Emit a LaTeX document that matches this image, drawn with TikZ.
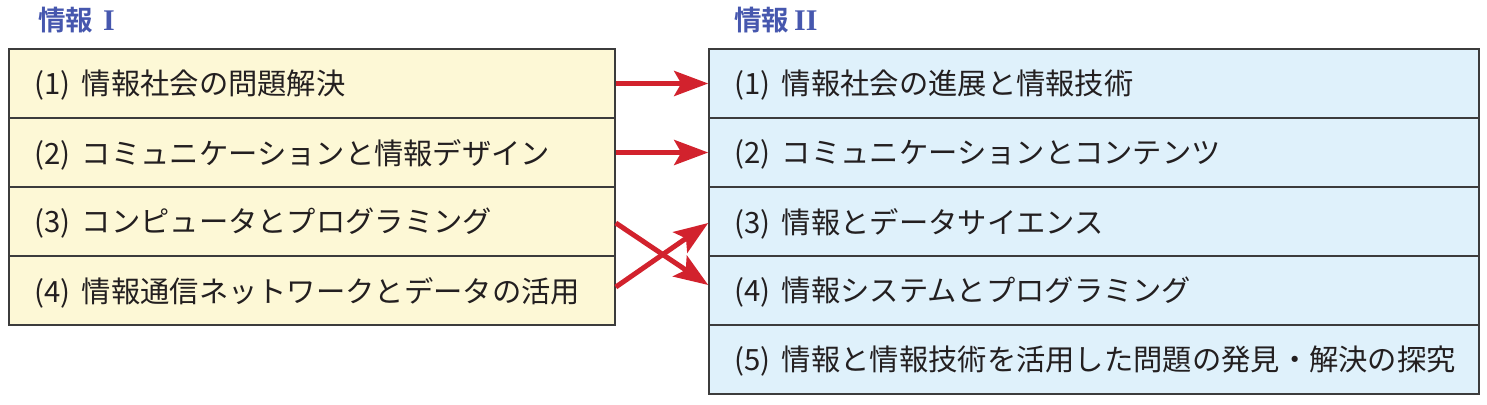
\documentclass[tikz,border=0pt]{standalone}
\usepackage{fontspec}
\newfontfamily\jp{Noto Sans CJK JP}
\newfontfamily\jpt[BoldFont={Noto Sans CJK JP Bold}]{Noto Sans CJK JP}
\newfontfamily\rom{Liberation Serif}
\usetikzlibrary{arrows.meta}
\definecolor{leftfill}{HTML}{FDF8D6}
\definecolor{rightfill}{HTML}{DFF1FB}
\definecolor{frame}{HTML}{3C3C3C}
\definecolor{titleblue}{HTML}{4657AE}
\definecolor{arrowred}{HTML}{D2222D}
\definecolor{txt}{HTML}{231F20}
\tikzset{
  row/.style={draw=frame, line width=1.6pt, minimum height=69pt, inner sep=0pt},
  leftrow/.style={row, fill=leftfill, minimum width=606pt},
  rightrow/.style={row, fill=rightfill, minimum width=770pt},
  rowtext/.style={anchor=west, text=txt, font=\jp\fontsize{29.3}{31}\selectfont, inner sep=0pt},
  title/.style={anchor=west, text=titleblue, inner sep=0pt, font=\jpt\bfseries\fontsize{27.5}{29}\selectfont},
  link/.style={draw=arrowred, line width=5pt, -{Stealth[length=34pt, width=25pt, inset=7pt]}}
}
\begin{document}
\begin{tikzpicture}[x=1pt, y=-1pt]
\useasboundingbox (0,0) rectangle (1487,404);
% titles
\node[title] (t1) at (38,20) {情報\hspace{10pt}{\rom\bfseries\fontsize{30}{30}\selectfont I}};
\node[title] (t2) at (734,20) {情報\hspace{5pt}{\rom\bfseries\fontsize{30}{30}\selectfont II}};
% left rows
\foreach \i/\t in {1/{(1)\, 情報社会の問題解決},2/{(2)\, コミュニケーションと情報デザイン},3/{(3)\, コンピュータとプログラミング},4/{(4)\, 情報通信ネットワークとデータの活用}}{
  \node[leftrow] (l\i) at (312,{49+69*(\i-0.5)}) {};
  \node[rowtext] (lt\i) at ([xshift=26pt,yshift=-2pt]l\i.west) {\t};
}
% right rows
\foreach \i/\t in {1/{(1)\, 情報社会の進展と情報技術},2/{(2)\, コミュニケーションとコンテンツ},3/{(3)\, 情報とデータサイエンス},4/{(4)\, 情報システムとプログラミング},5/{(5)\, 情報と情報技術を活用した問題の発見・解決の探究}}{
  \node[rightrow] (r\i) at (1094,{49+69*(\i-0.5)}) {};
  \node[rowtext] (rt\i) at ([xshift=26pt,yshift=-2pt]r\i.west) {\t};
}
% arrows
\draw[link] (l1.east) -- (r1.west);
\draw[link] (l2.east) -- (r2.west);
\draw[link] ([yshift=-1.5pt]l3.east) -- ([yshift=5.5pt]r4.west);
\draw[link] ([yshift=3.5pt]l4.east) -- ([yshift=-1.5pt]r3.west);
\end{tikzpicture}
\end{document}
